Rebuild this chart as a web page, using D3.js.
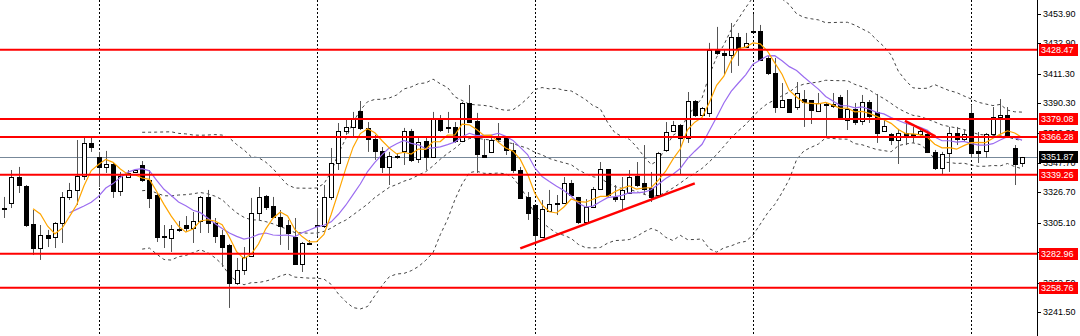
<!DOCTYPE html>
<html>
<head>
<meta charset="utf-8">
<script src="https://cdn.jsdelivr.net/npm/d3@7"></script>
<style>
  body { margin: 0; background: #fff; }
  svg { display: block; }
  text { font-family: "Liberation Sans", Arial, sans-serif; font-size: 9px; }
</style>
</head>
<body>
<div class="container"></div>
<script>
// candle data (index 0 = leftmost bar)
var opens = [3315.6,3319.2,3337.7,3331.3,3304.2,3287.1,3296.4,3295.0,3304.9,3323.5,
  3328.5,3338.4,3362.0,3352.0,3344.9,3347.0,3327.8,3337.7,3341.3,3346.3,
  3335.6,3324.9,3295.7,3294.2,3300.7,3303.5,3301.4,3306.4,3323.5,3304.9,
  3296.4,3289.3,3262.2,3271.4,3281.4,3312.1,3324.2,3317.1,3309.2,3303.5,
  3295.0,3275.7,3290.7,3302.8,3302.8,3323.5,3347.7,3370.5,3373.4,3384.8,
  3372.7,3364.8,3356.3,3344.9,3352.7,3356.3,3370.5,3350.6,3363.4,3352.0,
  3379.1,3373.4,3373.4,3363.4,3390.5,3377.7,3353.4,3355.6,3365.5,3365.5,
  3357.0,3342.7,3323.5,3317.8,3295.0,3313.5,3319.2,3319.2,3333.5,3323.5,
  3305.6,3316.3,3329.2,3343.4,3323.5,3322.0,3326.3,3338.4,3333.5,3329.9,
  3324.9,3357.0,3370.5,3374.8,3365.5,3391.9,3381.9,3383.4,3428.3,3426.1,
  3424.7,3437.5,3430.4,3441.8,3441.8,3422.6,3411.9,3387.6,3393.3,3387.6,
  3393.3,3392.6,3384.8,3389.8,3389.8,3394.8,3378.4,3386.2,3377.7,3391.2,
  3384.1,3370.5,3368.4,3364.1,3369.1,3368.4,3368.4,3368.4,3355.6,3344.1,
  3354.8,3369.1,3364.8,3383.4,3356.3,3356.3,3368.4,3380.5,3381.9,3358.4,
  3347.7];
var highs = [3323.5,3342.7,3344.9,3332.0,3314.2,3303.5,3300.0,3305.6,3327.0,3333.5,
  3364.1,3366.3,3365.5,3355.6,3356.3,3347.7,3341.3,3342.7,3343.4,3349.1,
  3342.7,3326.3,3303.5,3303.5,3306.4,3309.9,3312.8,3324.2,3328.5,3308.5,
  3300.0,3290.0,3280.0,3287.8,3322.8,3330.6,3324.9,3323.5,3314.2,3307.1,
  3308.5,3291.4,3292.8,3315.6,3332.0,3358.4,3376.2,3378.4,3384.1,3391.9,
  3376.9,3367.7,3359.1,3355.6,3354.8,3372.7,3372.0,3365.5,3365.5,3384.1,
  3381.9,3384.1,3376.9,3391.2,3403.3,3383.4,3364.8,3365.5,3376.2,3366.3,
  3362.0,3344.9,3327.0,3317.8,3321.3,3328.5,3324.9,3337.7,3335.6,3323.5,
  3322.0,3330.6,3348.4,3343.4,3332.0,3337.7,3342.7,3348.4,3360.5,3341.3,
  3355.6,3376.9,3377.7,3375.5,3398.3,3392.6,3387.6,3433.3,3444.7,3428.3,
  3447.5,3440.4,3440.4,3453.9,3446.1,3424.0,3422.6,3404.7,3393.3,3405.4,
  3399.7,3392.6,3397.6,3390.5,3397.6,3396.2,3399.7,3390.5,3396.2,3392.6,
  3396.9,3379.1,3369.1,3372.0,3376.2,3373.4,3372.0,3370.5,3357.0,3355.6,
  3373.4,3373.4,3371.2,3389.1,3369.8,3369.1,3387.6,3393.3,3387.6,3360.5,
  3352.0];
var lows = [3308.5,3315.6,3326.3,3302.1,3282.1,3278.6,3287.8,3287.1,3290.7,3321.3,
  3317.8,3335.6,3355.6,3330.6,3340.6,3322.8,3324.2,3337.0,3340.6,3334.2,
  3315.6,3291.4,3287.1,3284.3,3298.5,3298.5,3290.7,3297.8,3297.8,3290.7,
  3273.6,3244.4,3260.8,3267.9,3281.4,3307.1,3314.2,3308.5,3289.3,3285.7,
  3275.0,3270.0,3289.3,3295.7,3301.4,3321.3,3342.7,3367.7,3366.3,3371.2,
  3355.6,3349.9,3340.6,3332.0,3350.6,3346.3,3348.4,3347.7,3342.7,3352.0,
  3369.8,3369.1,3362.0,3362.7,3376.9,3340.6,3351.3,3354.8,3362.0,3353.4,
  3340.6,3322.8,3307.1,3291.4,3294.2,3312.8,3310.6,3318.5,3323.5,3304.2,
  3304.2,3315.6,3328.5,3323.5,3319.9,3314.9,3325.6,3330.6,3324.9,3319.9,
  3323.5,3355.6,3369.8,3339.2,3362.0,3380.5,3380.5,3380.5,3424.7,3410.4,
  3411.9,3416.9,3429.7,3440.4,3421.1,3410.4,3383.4,3386.9,3383.4,3385.5,
  3373.4,3375.5,3384.1,3367.0,3386.9,3379.1,3371.2,3374.8,3374.8,3376.2,
  3362.0,3369.8,3360.5,3347.0,3360.5,3362.0,3366.3,3354.8,3342.7,3339.2,
  3341.3,3360.5,3362.7,3351.3,3347.7,3351.3,3367.0,3367.7,3367.0,3332.0,
  3344.9];
var closes = [3314.9,3337.7,3332.0,3303.5,3287.1,3296.4,3294.2,3304.9,3323.5,3328.5,
  3338.4,3362.0,3359.1,3344.9,3347.0,3327.8,3338.4,3340.6,3342.7,3335.6,
  3322.8,3295.0,3295.0,3300.7,3300.0,3301.4,3306.4,3323.5,3304.9,3295.7,
  3287.8,3262.2,3271.4,3280.7,3312.1,3323.5,3316.3,3309.2,3302.8,3297.8,
  3275.7,3290.7,3290.3,3303.5,3323.5,3347.7,3370.5,3373.4,3379.1,3372.7,
  3364.8,3356.3,3344.9,3352.7,3352.3,3370.5,3349.9,3362.7,3352.0,3379.1,
  3371.2,3372.7,3363.4,3390.5,3376.9,3354.1,3352.0,3364.1,3364.8,3357.0,
  3342.7,3322.8,3312.1,3296.4,3314.9,3318.5,3318.5,3333.5,3324.9,3305.6,
  3316.3,3329.2,3343.4,3324.9,3322.0,3328.5,3337.7,3332.0,3329.2,3323.5,
  3354.8,3369.8,3374.8,3365.5,3391.9,3381.9,3386.9,3428.3,3426.1,3424.7,
  3437.5,3429.7,3433.3,3441.4,3421.1,3411.9,3387.6,3392.6,3384.1,3397.6,
  3391.2,3385.5,3390.5,3389.4,3388.3,3379.8,3386.2,3376.9,3391.2,3381.2,
  3369.1,3374.1,3364.1,3369.1,3367.0,3368.0,3370.5,3355.6,3344.1,3354.1,
  3369.1,3364.8,3368.4,3354.8,3354.8,3368.4,3380.5,3381.9,3367.7,3347.0,
  3351.9];

var levels = [3428.47, 3379.08, 3366.28, 3339.26, 3282.96, 3258.76];
var currentPrice = 3351.87;
var tickLabels = ["3453.90","3432.90","3411.30","3390.30","3369.30","3347.70",
  "3326.70","3305.10","3284.10","3262.50","3241.50"];
var separators = [13, 43, 73, 103, 133];
// trend lines: [startBar, startPrice, endBar, endPrice]
var trendLines = [[71, 3286.9, 95, 3333.2], [123.9, 3377.7, 128.1, 3366.6]];

var W = 1080, H = 336, AXIS_X = 1037;

var svg = d3.select(".container").append("svg")
    .attr("width", W)
    .attr("height", H);

var x = d3.scaleLinear().domain([0, closes.length - 1]).range([4, 1022]);
var y = d3.scaleLinear().domain([3241.5, 3453.9]).range([312, 14]);

svg.append("clipPath").attr("id", "plot")
  .append("rect").attr("x", 0).attr("y", 0).attr("width", AXIS_X).attr("height", H);

var plot = svg.append("g").attr("clip-path", "url(#plot)");

// indicators computed from the closes
function sma(n) {
    return closes.map(function (c, i) {
        return i < n - 1 ? null : d3.mean(closes.slice(i - n + 1, i + 1));
    });
}
function band(n, k) {
    return closes.map(function (c, i) {
        if (i < n - 1) return null;
        var win = closes.slice(i - n + 1, i + 1);
        var m = d3.mean(win);
        var sd = Math.sqrt(d3.mean(win, function (v) { return (v - m) * (v - m); }));
        return m + k * sd;
    });
}

var line = d3.line()
    .defined(function (d) { return d != null; })
    .x(function (d, i) { return x(i); })
    .y(function (d) { return y(d); });

// bollinger bands (dashed)
[band(20, 2), sma(20), band(20, -2)].forEach(function (s) {
    plot.append("path").datum(s)
        .attr("d", line)
        .attr("fill", "none")
        .attr("stroke", "#444")
        .attr("stroke-width", 1)
        .attr("stroke-dasharray", "3,3");
});

// session separators
plot.selectAll(".sep").data(separators).enter().append("line")
    .attr("x1", function (d) { return Math.round(x(d)) + 0.5; })
    .attr("x2", function (d) { return Math.round(x(d)) + 0.5; })
    .attr("y1", 0).attr("y2", H)
    .attr("stroke", "#000")
    .attr("stroke-dasharray", "2,2");

// current price line
plot.append("line")
    .attr("x1", 0).attr("x2", AXIS_X)
    .attr("y1", Math.round(y(currentPrice)) + 0.5)
    .attr("y2", Math.round(y(currentPrice)) + 0.5)
    .attr("stroke", "#778899");

// candles
var candles = plot.selectAll(".candle").data(closes).enter().append("g");
candles.append("line")
    .attr("x1", function (d, i) { return Math.round(x(i)) + 0.5; })
    .attr("x2", function (d, i) { return Math.round(x(i)) + 0.5; })
    .attr("y1", function (d, i) { return y(highs[i]); })
    .attr("y2", function (d, i) { return y(lows[i]); })
    .attr("stroke", "#555");
candles.append("rect")
    .attr("x", function (d, i) { return Math.round(x(i)) - 1.5; })
    .attr("width", 4)
    .attr("y", function (d, i) { return Math.round(y(Math.max(opens[i], closes[i]))) + 0.5; })
    .attr("height", function (d, i) { return Math.max(1, Math.round(Math.abs(y(opens[i]) - y(closes[i])))); })
    .attr("fill", function (d, i) { return closes[i] >= opens[i] ? "#fff" : "#000"; })
    .attr("stroke", "#000");

// moving averages
plot.append("path").datum(sma(10))
    .attr("d", line).attr("fill", "none")
    .attr("stroke", "#9b6cf0").attr("stroke-width", 1.2);
plot.append("path").datum(sma(5))
    .attr("d", line).attr("fill", "none")
    .attr("stroke", "#ffa500").attr("stroke-width", 1.2);

// horizontal levels
plot.selectAll(".lvl").data(levels).enter().append("line")
    .attr("x1", 0).attr("x2", AXIS_X)
    .attr("y1", function (d) { return y(d); })
    .attr("y2", function (d) { return y(d); })
    .attr("stroke", "#ff0000")
    .attr("stroke-width", 2);

// trend lines
plot.selectAll(".trend").data(trendLines).enter().append("line")
    .attr("x1", function (d) { return x(d[0]); })
    .attr("y1", function (d) { return y(d[1]); })
    .attr("x2", function (d) { return x(d[2]); })
    .attr("y2", function (d) { return y(d[3]); })
    .attr("stroke", "#ff0000")
    .attr("stroke-width", 2.5);

// right price axis
svg.append("line")
    .attr("x1", AXIS_X + 0.5).attr("x2", AXIS_X + 0.5)
    .attr("y1", 0).attr("y2", H)
    .attr("stroke", "#000");

var ticks = svg.selectAll(".tick").data(tickLabels).enter().append("g")
    .attr("transform", function (d) { return "translate(0," + Math.round(y(+d)) + ")"; });
ticks.append("line")
    .attr("x1", AXIS_X).attr("x2", AXIS_X + 4)
    .attr("y1", 0.5).attr("y2", 0.5)
    .attr("stroke", "#000");
ticks.append("text")
    .attr("x", AXIS_X + 6)
    .attr("dy", "0.35em")
    .attr("fill", "#000")
    .text(function (d) { return d; });

function priceTag(v, bg) {
    var g = svg.append("g").attr("transform", "translate(0," + Math.round(y(v)) + ")");
    g.append("rect")
        .attr("x", AXIS_X + 2).attr("y", -6)
        .attr("width", 39).attr("height", 12)
        .attr("fill", bg);
    g.append("text")
        .attr("x", AXIS_X + 4).attr("dy", "0.35em")
        .attr("fill", "#fff")
        .text(v.toFixed(2));
}
levels.forEach(function (v) { priceTag(v, "#ff0000"); });
priceTag(currentPrice, "#000");
</script>
</body>
</html>
